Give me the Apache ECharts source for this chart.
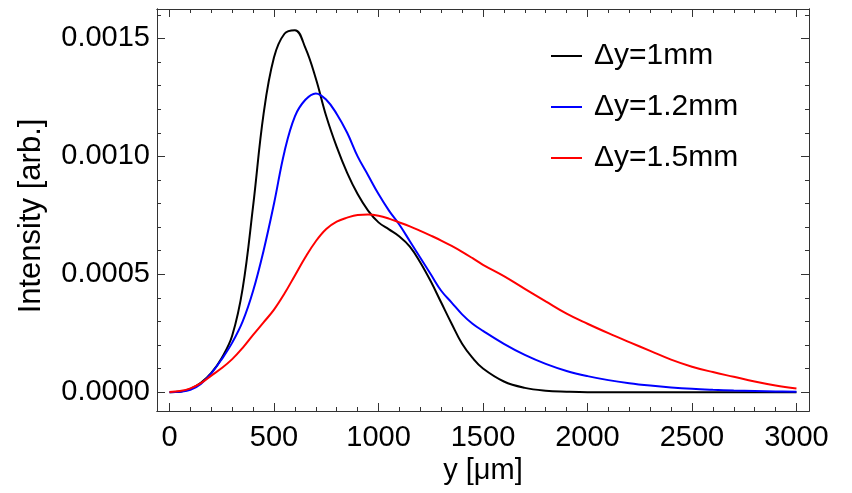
<!DOCTYPE html>
<html>
<head>
<meta charset="utf-8">
<script src="https://cdn.jsdelivr.net/npm/echarts@6/dist/echarts.min.js"></script>
<style>
  html, body { margin: 0; padding: 0; background: #fff; }
  #chart { width: 852px; height: 493px; }
</style>
</head>
<body>
<div id="chart"></div>
<script>
// sample positions along y [um]
const yPos = [0, 50, 100, 150, 200, 250, 300, 350, 400, 450, 500, 550, 600, 650, 700, 750,
  800, 850, 900, 950, 1000, 1050, 1100, 1150, 1200, 1250, 1300, 1350, 1400, 1450, 1500,
  1600, 1700, 1800, 1900, 2000, 2100, 2200, 2300, 2400, 2500, 2600, 2700, 2800, 2900, 3000];

// Δy = 1mm
const dy10 = [0, 0.000002, 0.000014, 0.00004, 0.000082, 0.000145, 0.00024, 0.00044, 0.00079, 0.00118,
  0.00142, 0.00152, 0.001535, 0.00146, 0.00133, 0.00117, 0.00104, 0.00093, 0.00084, 0.00077,
  0.00072, 0.00069, 0.00066, 0.000617, 0.00055, 0.00047, 0.00038, 0.00029, 0.000205, 0.000145, 0.0001,
  0.000045, 0.000018, 0.000006, 0.000002, 0, 0, 0, 0, 0, 0, 0, 0, 0, 0, 0];

// Δy = 1.2mm
const dy12 = [0, 0.000002, 0.00001, 0.000035, 0.00008, 0.00014, 0.00021, 0.0003, 0.00043, 0.0006,
  0.0008, 0.00102, 0.00117, 0.00124, 0.001267, 0.00124, 0.00118, 0.0011, 0.001, 0.00092,
  0.00084, 0.00077, 0.00071, 0.00064, 0.00057, 0.0005, 0.00043, 0.00038, 0.00033, 0.00029, 0.00026,
  0.000205, 0.000158, 0.00012, 0.00009, 0.000068, 0.000051, 0.000038, 0.000028, 0.00002, 0.000014,
  0.00001, 0.000007, 0.000005, 0.000003, 0.000002];

// Δy = 1.5mm
const dy15 = [0.000001, 0.000005, 0.000016, 0.000038, 0.00007, 0.000102, 0.00014, 0.000188, 0.000243, 0.000296,
  0.00035, 0.000418, 0.000495, 0.000572, 0.00064, 0.000692, 0.000723, 0.00074, 0.000751, 0.000753,
  0.000748, 0.000736, 0.00072, 0.000703, 0.000684, 0.000664, 0.000643, 0.00062, 0.000595, 0.000568, 0.00054,
  0.000492, 0.000438, 0.000385, 0.000333, 0.00029, 0.00025, 0.000212, 0.000175, 0.000138, 0.000108,
  0.000085, 0.000065, 0.000045, 0.000028, 0.000015];

const seriesNames = ['Δy=1mm', 'Δy=1.2mm', 'Δy=1.5mm'];
const seriesColors = ['#000000', '#0000ff', '#ff0000'];

const xMajor = [0, 500, 1000, 1500, 2000, 2500, 3000];
const xMinor = [100, 200, 300, 400, 600, 700, 800, 900, 1100, 1200, 1300, 1400,
  1600, 1700, 1800, 1900, 2100, 2200, 2300, 2400, 2600, 2700, 2800, 2900];
const yMajor = [0, 0.0005, 0.001, 0.0015];
const yMinor = [0.0001, 0.0002, 0.0003, 0.0004, 0.0006, 0.0007, 0.0008, 0.0009,
  0.0011, 0.0012, 0.0013, 0.0014, 0.0016];

const font = '"Liberation Sans", Arial, sans-serif';
const frame = '#333';

function pairs(vals) {
  return yPos.map((x, i) => [x, vals[i]]);
}

function xAx(pos, ticks, len, opts) {
  return Object.assign({
    type: 'value', position: pos, min: -60, max: 3060,
    axisLine: { show: true, onZero: false, lineStyle: { color: frame, width: 1 } },
    axisTick: { show: true, inside: true, length: len, customValues: ticks, lineStyle: { color: frame, width: 1 } },
    axisLabel: { show: false },
    splitLine: { show: false }
  }, opts || {});
}

function yAx(pos, ticks, len, opts) {
  return Object.assign({
    type: 'value', position: pos, min: -0.00008, max: 0.001625,
    axisLine: { show: true, onZero: false, lineStyle: { color: frame, width: 1 } },
    axisTick: { show: true, inside: true, length: len, customValues: ticks, lineStyle: { color: frame, width: 1 } },
    axisLabel: { show: false },
    splitLine: { show: false }
  }, opts || {});
}

const chart = echarts.init(document.getElementById('chart'));

chart.setOption({
  animation: false,
  grid: { left: 157, right: 43, top: 9, bottom: 82 },
  legend: {
    orient: 'vertical',
    left: 551,
    top: 41,
    padding: 0,
    itemWidth: 31,
    itemHeight: 2,
    itemGap: 21,
    icon: 'rect',
    data: seriesNames,
    textStyle: { fontFamily: font, fontSize: 30, color: '#000', lineHeight: 30, padding: [0, 0, 0, 7] }
  },
  // y-axis title, drawn as text so it can sit a bit below the grid centre
  graphic: [{
    type: 'text',
    x: 31,
    y: 216,
    rotation: Math.PI / 2,
    style: {
      text: 'Intensity [arb.]',
      font: '31px ' + font,
      fill: '#000',
      align: 'center',
      verticalAlign: 'middle'
    }
  }],
  xAxis: [
    xAx('bottom', xMajor, 8, {
      name: 'y [μm]', nameLocation: 'middle', nameGap: 40,
      nameTextStyle: { fontFamily: font, fontSize: 29, color: '#000' },
      axisLabel: {
        show: true, customValues: xMajor, margin: 12, fontFamily: font, fontSize: 29, color: '#000',
        formatter: v => String(v)
      }
    }),
    xAx('bottom', xMinor, 4),
    xAx('top', xMajor, 8),
    xAx('top', xMinor, 4)
  ],
  yAxis: [
    yAx('left', yMajor, 8, {
      axisLabel: {
        show: true, customValues: yMajor, margin: 7, fontFamily: font, fontSize: 29, color: '#000',
        formatter: v => v.toFixed(4)
      }
    }),
    yAx('left', yMinor, 4),
    yAx('right', yMajor, 8),
    yAx('right', yMinor, 4)
  ],
  series: [dy10, dy12, dy15].map((vals, i) => ({
    name: seriesNames[i],
    type: 'line',
    xAxisIndex: 0,
    yAxisIndex: 0,
    data: pairs(vals),
    smooth: 0.4,
    symbol: 'none',
    lineStyle: { color: seriesColors[i], width: 2 },
    itemStyle: { color: seriesColors[i] }
  }))
});
</script>
</body>
</html>
